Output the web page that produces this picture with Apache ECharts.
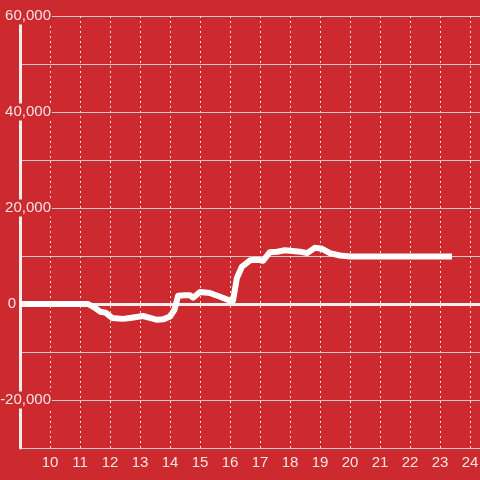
<!DOCTYPE html>
<html>
<head>
<meta charset="utf-8">
<script src="https://cdn.jsdelivr.net/npm/echarts@6/dist/echarts.min.js"></script>
<style>
html,body{margin:0;padding:0;background:#cc2a2e;}
#chart{width:480px;height:480px;}
</style>
</head>
<body>
<div id="chart"></div>
<script>
const hours = [9, 11.27, 11.5, 11.67, 11.85, 12.07, 12.43, 12.67, 13.1, 13.33, 13.57, 13.77, 14.0, 14.15, 14.27, 14.5, 14.67, 14.77, 15.0, 15.33, 15.67, 16.0, 16.1, 16.23, 16.4, 16.67, 16.93, 17.1, 17.33, 17.57, 17.83, 18.0, 18.33, 18.57, 18.83, 19.07, 19.33, 19.67, 20.0, 23.4];
const values = [0, 0, -800, -1600, -1800, -2900, -3100, -2900, -2500, -2900, -3300, -3200, -2600, -1200, 1700, 1800, 1800, 1300, 2500, 2300, 1500, 700, 700, 5400, 7800, 9100, 9200, 9000, 10800, 10900, 11200, 11100, 10900, 10600, 11700, 11500, 10600, 10100, 9900, 9900];
const xTicks = [10, 11, 12, 13, 14, 15, 16, 17, 18, 19, 20, 21, 22, 23, 24];
const yLabels = [-20000, 0, 20000, 40000, 60000];

const bg = '#cc2a2e';
const txt = '#f3e4e4';
const font = 'Liberation Sans, Arial, sans-serif';

const chart = echarts.init(document.getElementById('chart'));
chart.setOption({
  backgroundColor: bg,
  animation: false,
  grid: {left: 20, right: 0, top: 16, bottom: 32, containLabel: false, outerBoundsMode: 'none'},
  xAxis: {
    type: 'value', min: 9, max: 24.3333, interval: 1,
    axisLine: {show: false}, axisTick: {show: false},
    axisLabel: {
      color: txt, fontSize: 15, fontFamily: font, margin: 7,
      showMinLabel: false, showMaxLabel: false,
      formatter: v => xTicks.includes(Math.round(v)) && Math.abs(v - Math.round(v)) < 1e-6 ? String(Math.round(v)) : ''
    },
    splitLine: {show: true, lineStyle: {color: '#e8e0e0', width: 1, type: [2, 3]}}
  },
  yAxis: {
    type: 'value', min: -30000, max: 60000, interval: 10000,
    axisLine: {show: true, lineStyle: {color: '#f2eeee', width: 3}},
    axisTick: {show: false},
    axisLabel: {
      align: 'right', margin: -32,
      formatter: v => !yLabels.includes(v) ? '' : (v === 0 ? '{z|0}' : '{a|' + v.toLocaleString('en-US') + '}'),
      rich: {
        a: {color: txt, fontSize: 15, fontFamily: font, backgroundColor: bg, padding: [1, 1, 1, 0]},
        z: {color: txt, fontSize: 15, fontFamily: font, padding: [1, 36, 1, 0]}
      }
    },
    splitLine: {show: true, lineStyle: {color: '#d4c8c8', width: 1}}
  },
  series: [{
    type: 'line',
    data: hours.map((h, i) => [h, values[i]]),
    symbol: 'none',
    z: 5,
    lineStyle: {color: '#ffffff', width: 6, join: 'round', cap: 'butt'},
    markLine: {
      silent: true, symbol: 'none', label: {show: false}, z: 3,
      lineStyle: {color: '#f0eeee', width: 3, type: 'solid'},
      data: [{yAxis: 0}]
    }
  }]
});
</script>
</body>
</html>
